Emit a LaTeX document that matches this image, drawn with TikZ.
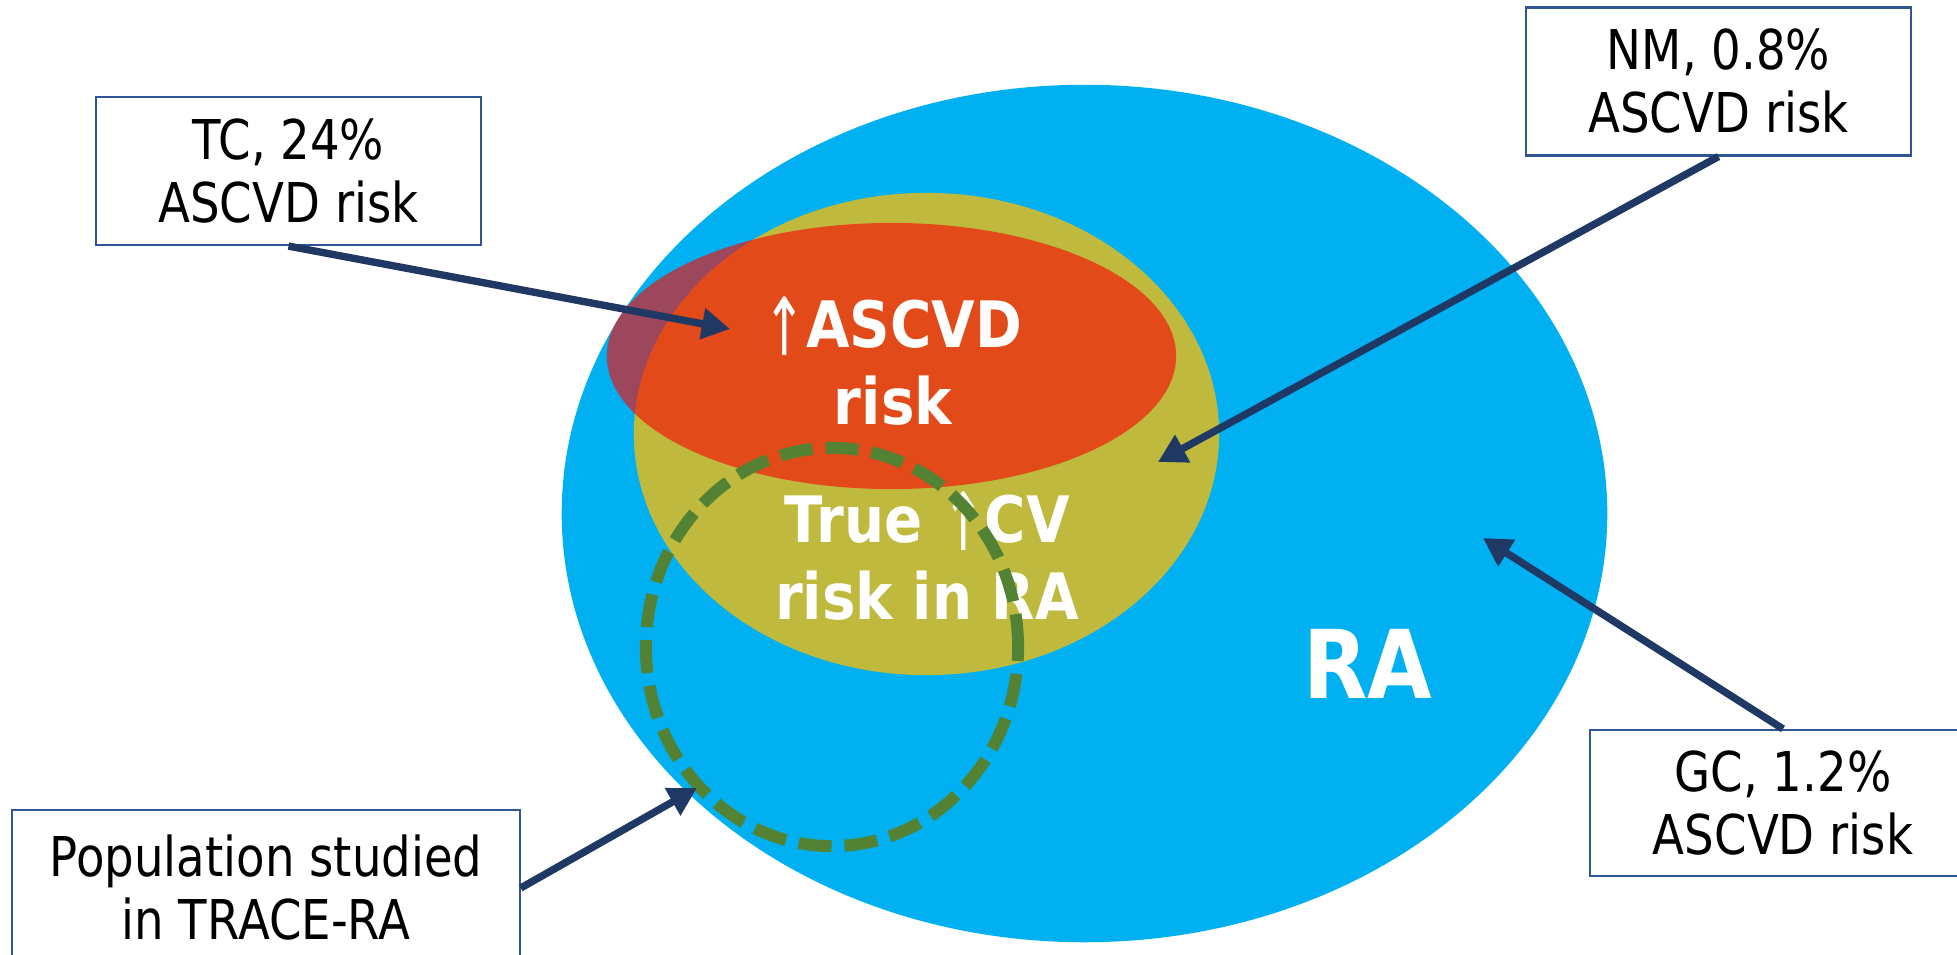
\documentclass[tikz,border=0pt]{standalone}
\usepackage{fontspec}
\setmainfont{DejaVu Sans}[FakeStretch=0.85]
\newfontfamily\labelfont{DejaVu Sans}[FakeStretch=0.88]
\usetikzlibrary{shapes.geometric,arrows.meta}

\definecolor{raBlue}{RGB}{0,176,240}
\definecolor{cvOlive}{RGB}{191,186,61}
\definecolor{riskRed}{RGB}{248,10,6}
\definecolor{popGreen}{RGB}{84,130,53}
\definecolor{arrowNavy}{RGB}{32,56,100}
\definecolor{boxBlue}{RGB}{47,85,151}

\newcommand{\uparr}{{\mdseries\raisebox{-0.12em}{\scalebox{0.9}[1.25]{↑}}}}

\tikzset{
  boxtext/.style={align=center, font=\fontsize{15.6}{17.9}\selectfont},
  infobox/.style={boxtext, draw=boxBlue, line width=0.6pt, fill=white,
    minimum width=3.85cm, minimum height=1.48cm, inner sep=0pt},
  blob/.style={ellipse, inner sep=0pt},
  whitelabel/.style={text=white, align=center,
    font=\labelfont\bfseries\fontsize{18.2}{21.9}\selectfont},
  pointer/.style={draw=arrowNavy, line width=2.1pt,
    -{Triangle[length=8pt,width=8.5pt]}},
}

\begin{document}
\begin{tikzpicture}[x=0.01cm,y=-0.01cm]
  \useasboundingbox (0,0) rectangle (1957,954);

  % sets
  \node[blob, fill=raBlue, minimum width=10.45cm, minimum height=8.57cm] (ra) at (1084.5,513.5) {};
  \node[blob, fill=cvOlive, minimum width=5.85cm, minimum height=4.82cm] (cv) at (926.5,434) {};
  \node[blob, fill=riskRed, fill opacity=0.63, minimum width=5.69cm, minimum height=2.66cm] (risk) at (891.5,356) {};

  \node[whitelabel] (risklabel) at (893,361) {\uparr ASCVD\\risk};
  \node[whitelabel] (cvlabel) at (927,556) {True \uparr CV\\risk in RA};
  \node[text=white, font=\labelfont\bfseries\fontsize{27}{30}\selectfont] (ralabel) at (1367.5,663.5) {RA};

  \node[blob, draw=popGreen, line width=3.4pt, dash pattern=on 0.33cm off 0.13cm,
    minimum width=3.72cm, minimum height=3.98cm] (trace) at (832,647) {};

  % boxes
  \node[infobox] (tc) at (288.5,171) {TC, 24\%\\ASCVD risk};
  \node[infobox] (nm) at (1718.5,81.5) {NM, 0.8\%\\ASCVD risk};
  \node[infobox, minimum height=1.46cm] (gc) at (1783,803) {GC, 1.2\%\\ASCVD risk};
  \node[infobox, minimum width=5.07cm, minimum height=1.56cm] (pop) at (266,888) {Population studied\\in TRACE-RA};

  \coordinate (tctip) at (730,329);
  \coordinate (nmtip) at (1158,462);
  \coordinate (gctip) at (1483,538);
  \coordinate (poptip) at (697,788);

  \draw[pointer] (tc.south) -- (tctip);
  \draw[pointer] (nm.south) -- (nmtip);
  \draw[pointer] (gc.north) -- (gctip);
  \draw[pointer] (pop.east) -- (poptip);
\end{tikzpicture}
\end{document}
